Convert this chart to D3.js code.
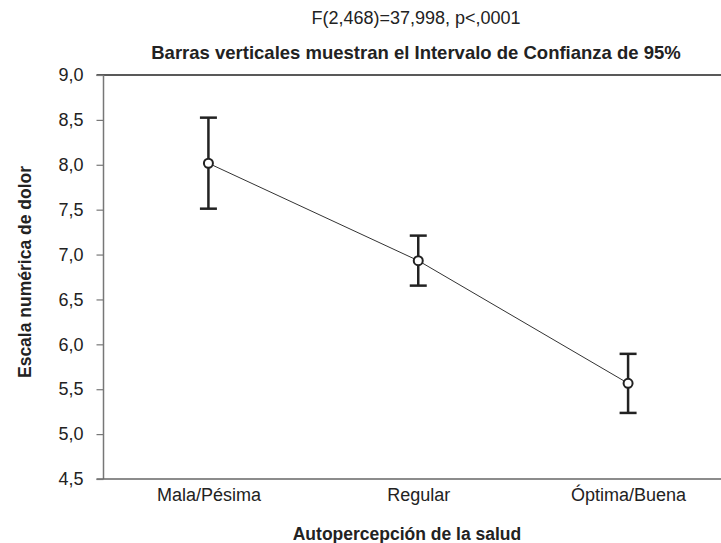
<!DOCTYPE html>
<html>
<head>
<meta charset="utf-8">
<script src="https://cdn.jsdelivr.net/npm/d3@7"></script>
<style>
  body { margin: 0; background: #fff; }
  svg { display: block; font-family: "Liberation Sans", Arial, sans-serif; }
</style>
</head>
<body>
<svg id="chart" width="721" height="543"></svg>
<script>
// data
var categories = ["Mala/Pésima", "Regular", "Óptima/Buena"];
var means = [8.017, 6.932, 5.566];
var lower = [7.511, 6.654, 5.236];
var upper = [8.525, 7.211, 5.894];
var yTicks = [4.5, 5.0, 5.5, 6.0, 6.5, 7.0, 7.5, 8.0, 8.5, 9.0];

var svg = d3.select("#chart");
var plotLeft = 103.5, plotTop = 75, plotBottom = 479;

var x = d3.scalePoint()
    .domain(categories)
    .range([plotLeft, 733])
    .padding(0.5);

var y = d3.scaleLinear()
    .domain([4.5, 9.0])
    .range([plotBottom, plotTop]);

var fmt = function (d) { return d3.format(".1f")(d).replace(".", ","); };

// titles
svg.append("text")
    .attr("x", 416).attr("y", 24)
    .attr("text-anchor", "middle")
    .attr("font-size", 18).attr("fill", "#222")
    .text("F(2,468)=37,998, p<,0001");
svg.append("text")
    .attr("x", 416).attr("y", 59)
    .attr("text-anchor", "middle")
    .attr("font-size", 18.5).attr("font-weight", "bold").attr("fill", "#222")
    .text("Barras verticales muestran el Intervalo de Confianza de 95%");

// frame lines
svg.append("line")
    .attr("x1", plotLeft - 7).attr("x2", 721)
    .attr("y1", plotTop).attr("y2", plotTop)
    .attr("stroke", "#222").attr("stroke-width", 1.5);
svg.append("line")
    .attr("x1", plotLeft).attr("x2", plotLeft)
    .attr("y1", plotTop).attr("y2", plotBottom)
    .attr("stroke", "#777").attr("stroke-width", 1.5);
svg.append("line")
    .attr("x1", plotLeft - 7).attr("x2", 721)
    .attr("y1", plotBottom).attr("y2", plotBottom)
    .attr("stroke", "#666").attr("stroke-width", 1.5);

// y axis
var yAxis = d3.axisLeft(y)
    .tickValues(yTicks)
    .tickFormat(fmt)
    .tickSize(7)
    .tickPadding(13);
var gy = svg.append("g")
    .attr("transform", "translate(" + plotLeft + ",0)")
    .call(yAxis);
gy.select(".domain").remove();
gy.selectAll(".tick line").attr("stroke", "#777").attr("stroke-width", 1.2);
gy.selectAll(".tick text")
    .attr("font-size", 18).attr("fill", "#222")
    .attr("font-family", "Liberation Sans, Arial, sans-serif");

// x axis labels
var xAxis = d3.axisBottom(x).tickSize(0).tickPadding(9);
var gx = svg.append("g")
    .attr("transform", "translate(0," + plotBottom + ")")
    .call(xAxis);
gx.select(".domain").remove();
gx.selectAll(".tick text")
    .attr("font-size", 18).attr("fill", "#222")
    .attr("font-family", "Liberation Sans, Arial, sans-serif");

// axis titles
svg.append("text")
    .attr("x", 407).attr("y", 540)
    .attr("text-anchor", "middle")
    .attr("font-size", 17.5).attr("font-weight", "bold").attr("fill", "#222")
    .text("Autopercepción de la salud");
svg.append("text")
    .attr("transform", "translate(31,272) rotate(-90)")
    .attr("text-anchor", "middle")
    .attr("font-size", 17.5).attr("font-weight", "bold").attr("fill", "#222")
    .text("Escala numérica de dolor");

// connecting line
var line = d3.line()
    .x(function (d, i) { return x(categories[i]); })
    .y(function (d) { return y(d); });
svg.append("path")
    .datum(means)
    .attr("d", line)
    .attr("fill", "none")
    .attr("stroke", "#333")
    .attr("stroke-width", 1);

// error bars
var bars = svg.append("g").selectAll("g")
    .data(categories)
    .enter().append("g");
bars.append("line")
    .attr("x1", function (d) { return x(d); })
    .attr("x2", function (d) { return x(d); })
    .attr("y1", function (d, i) { return y(lower[i]); })
    .attr("y2", function (d, i) { return y(upper[i]); })
    .attr("stroke", "#222").attr("stroke-width", 2.5);
[lower, upper].forEach(function (arr) {
    bars.append("line")
        .attr("x1", function (d) { return x(d) - 8.5; })
        .attr("x2", function (d) { return x(d) + 8.5; })
        .attr("y1", function (d, i) { return y(arr[i]); })
        .attr("y2", function (d, i) { return y(arr[i]); })
        .attr("stroke", "#222").attr("stroke-width", 2.5);
});
bars.append("circle")
    .attr("cx", function (d) { return x(d); })
    .attr("cy", function (d, i) { return y(means[i]); })
    .attr("r", 4.5)
    .attr("fill", "#fff")
    .attr("stroke", "#222").attr("stroke-width", 2);
</script>
</body>
</html>
